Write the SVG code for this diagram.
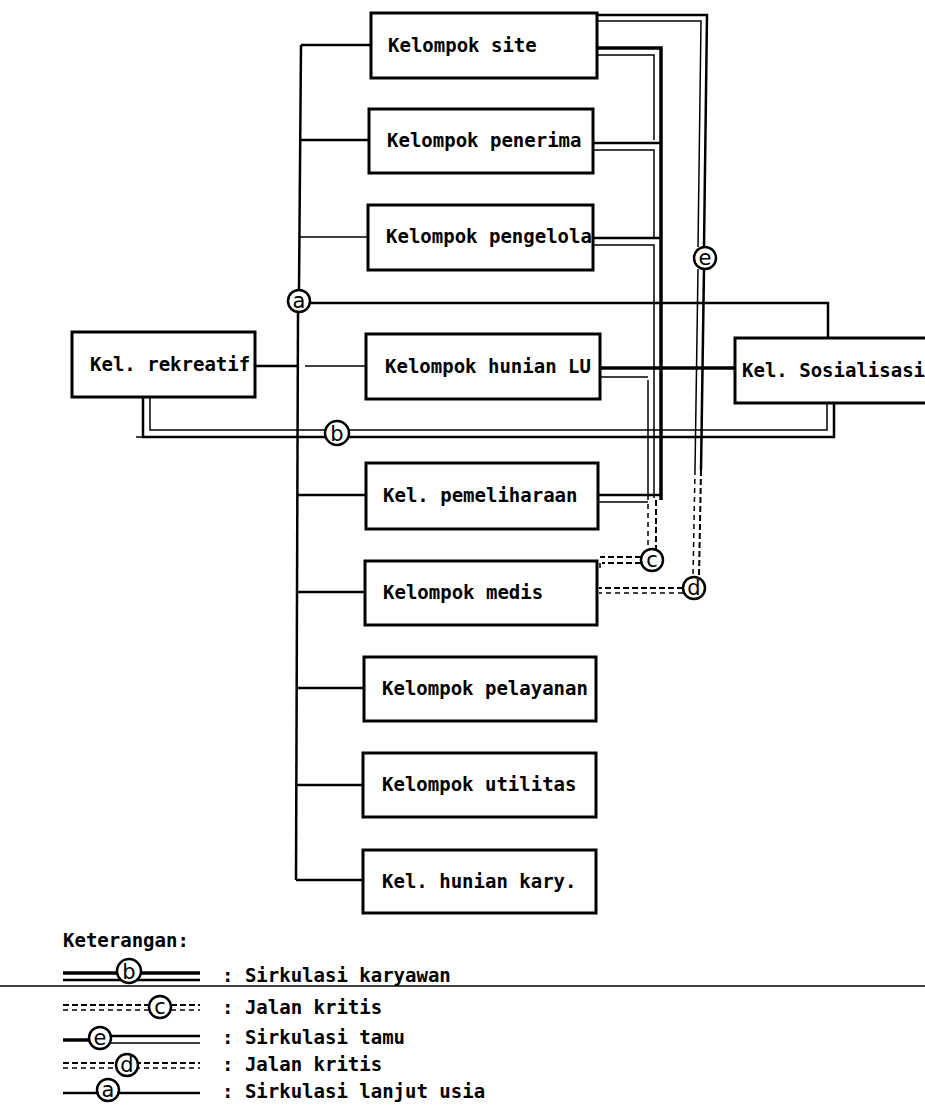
<svg xmlns="http://www.w3.org/2000/svg" width="925" height="1113" viewBox="0 0 925 1113">
<style>
.box{fill:none;stroke:#000;stroke-width:3}
.lbl{font-family:"DejaVu Sans Mono","Liberation Mono",monospace;font-weight:bold;font-size:19px;fill:#000}
.ln{fill:none;stroke:#000;stroke-width:2.5}
.th{fill:none;stroke:#000;stroke-width:1.5}
.tk{fill:none;stroke:#000;stroke-width:3.5}
.ds{fill:none;stroke:#000;stroke-width:2;stroke-dasharray:6 3}
.dt{fill:none;stroke:#000;stroke-width:1.5;stroke-dasharray:5 4}
.cir{fill:#fff;stroke:#000;stroke-width:2.5}
.cl{font-family:"DejaVu Sans","Liberation Sans",sans-serif;font-size:21px;fill:#000;text-anchor:middle}
</style>
<g id="connectors">
<!-- a: sirkulasi lanjut usia (main spine) -->
<path class="ln" d="M301,45 L299,289"/>
<path class="ln" d="M298,313 L296,880"/>
<path class="ln" d="M301,45 H371"/>
<path class="ln" d="M300,140 H369"/>
<path class="th" d="M300,237 H368"/>
<path class="ln" d="M255,366 H297"/>
<path class="th" d="M305,366 H366"/>
<path class="ln" d="M297,495 H366"/>
<path class="ln" d="M297,592 H365"/>
<path class="ln" d="M297,688 H364"/>
<path class="ln" d="M296,785 H363"/>
<path class="ln" d="M296,880 H363"/>
<path class="ln" d="M311,303 H828 V338"/>
<!-- b: sirkulasi karyawan -->
<path class="ln" d="M143,397 V437 H834 V403"/>
<path class="th" d="M150,397 V430 H827 V403"/>
<path class="th" d="M136,437 H143"/>
<!-- hunian LU to sosialisasi -->
<path class="tk" d="M600,368 H735"/>
<!-- c bundle -->
<path class="tk" d="M597,48 H661 V500"/>
<path class="th" d="M597,55 H654 V140"/>
<path class="ln" d="M593,143 H661"/>
<path class="th" d="M593,150 H654 V238"/>
<path class="ln" d="M593,238 H661"/>
<path class="th" d="M593,245 H654 V498"/>
<path class="th" d="M648,380 V500"/>
<path class="th" d="M600,377 H648"/>
<path class="ln" d="M598,495 H661"/>
<path class="th" d="M598,502 H648"/>
<path class="dt" d="M648,504 V549"/>
<path class="ds" d="M656,500 V549"/>
<path class="ds" d="M641,557 H600"/>
<path class="ds" d="M641,563 H602"/>
<path class="th" d="M600,563 V568"/>
<!-- e: sirkulasi tamu -->
<path class="ln" d="M597,15 H707 L704,247"/>
<path class="th" d="M597,21 H701 L698,247"/>
<path class="ln" d="M704,269 L701,470"/>
<path class="th" d="M698,269 L695,470"/>
<!-- d: jalan kritis -->
<path class="ds" d="M701,470 L699,577"/>
<path class="dt" d="M695,470 L693,577"/>
<path class="ds" d="M683,588 H599"/>
<path class="dt" d="M683,593 H599"/>
</g>
<g id="markers">
<circle class="cir" cx="299" cy="301" r="11"/><text class="cl" x="299" y="308">a</text>
<circle class="cir" cx="337" cy="433" r="12"/><text class="cl" x="337" y="441">b</text>
<circle class="cir" cx="652" cy="560" r="11"/><text class="cl" x="652" y="567">c</text>
<circle class="cir" cx="694" cy="588" r="11"/><text class="cl" x="694" y="595">d</text>
<circle class="cir" cx="705" cy="258" r="11"/><text class="cl" x="705" y="265">e</text>
</g>
<g id="n-site"><rect class="box" x="371" y="13" width="226" height="65"/><text class="lbl" x="388" y="52">Kelompok site</text></g>
<g id="n-penerima"><rect class="box" x="369" y="109" width="224" height="64"/><text class="lbl" x="387" y="147">Kelompok penerima</text></g>
<g id="n-pengelola"><rect class="box" x="368" y="205" width="225" height="65"/><text class="lbl" x="386" y="243">Kelompok pengelola</text></g>
<g id="n-rekreatif"><rect class="box" x="72" y="332" width="183" height="65"/><text class="lbl" x="90" y="371">Kel. rekreatif</text></g>
<g id="n-hunianlu"><rect class="box" x="366" y="334" width="234" height="65"/><text class="lbl" x="385" y="373">Kelompok hunian LU</text></g>
<g id="n-sosialisasi"><rect class="box" x="735" y="338" width="200" height="65"/><text class="lbl" x="742" y="377">Kel. Sosialisasi</text></g>
<g id="n-pemeliharaan"><rect class="box" x="366" y="463" width="232" height="66"/><text class="lbl" x="383" y="502">Kel. pemeliharaan</text></g>
<g id="n-medis"><rect class="box" x="365" y="561" width="232" height="64"/><text class="lbl" x="383" y="599">Kelompok medis</text></g>
<g id="n-pelayanan"><rect class="box" x="364" y="657" width="232" height="64"/><text class="lbl" x="382" y="695">Kelompok pelayanan</text></g>
<g id="n-utilitas"><rect class="box" x="363" y="753" width="233" height="64"/><text class="lbl" x="382" y="791">Kelompok utilitas</text></g>
<g id="n-huniankary"><rect class="box" x="363" y="850" width="233" height="63"/><text class="lbl" x="382" y="888">Kel. hunian kary.</text></g>
<g id="legend">
<text class="lbl" x="63" y="947">Keterangan:</text>
<path class="tk" d="M63,973 H200"/><path class="ln" d="M63,980 H200"/>
<circle class="cir" cx="129" cy="971" r="12"/><text class="cl" x="129" y="979">b</text>
<text class="lbl" x="222" y="982">: Sirkulasi karyawan</text>
<path class="th" d="M0,986 H925"/>
<path class="ds" d="M63,1005 H200"/><path class="dt" d="M63,1010 H200"/>
<circle class="cir" cx="160" cy="1007" r="11"/><text class="cl" x="160" y="1014">c</text>
<text class="lbl" x="222" y="1014">: Jalan kritis</text>
<path class="tk" d="M63,1040 H90"/><path class="ln" d="M111,1036 H200"/><path class="th" d="M111,1043 H200"/>
<circle class="cir" cx="100" cy="1038" r="11"/><text class="cl" x="100" y="1045">e</text>
<text class="lbl" x="222" y="1044">: Sirkulasi tamu</text>
<path class="ds" d="M63,1063 H200"/><path class="dt" d="M63,1068 H200"/>
<circle class="cir" cx="127" cy="1065" r="11"/><text class="cl" x="127" y="1072">d</text>
<text class="lbl" x="222" y="1071">: Jalan kritis</text>
<path class="ln" d="M63,1093 H200"/>
<circle class="cir" cx="108" cy="1090" r="11"/><text class="cl" x="108" y="1097">a</text>
<text class="lbl" x="222" y="1098">: Sirkulasi lanjut usia</text>
</g>
</svg>
